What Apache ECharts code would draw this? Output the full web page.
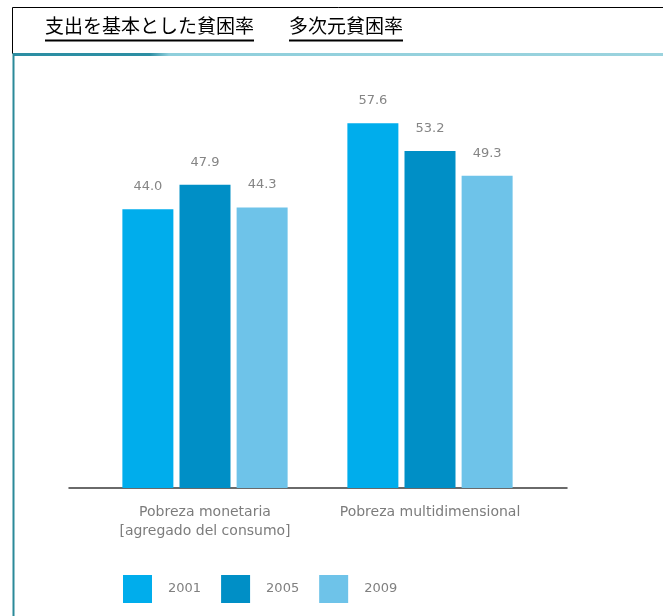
<!DOCTYPE html>
<html>
<head>
<meta charset="utf-8">
<script src="https://cdn.jsdelivr.net/npm/echarts@6/dist/echarts.min.js"></script>
<style>
  html, body { margin: 0; padding: 0; background: #ffffff; }
  #chart { width: 663px; height: 616px; }
</style>
</head>
<body>
<div id="chart"></div>
<script>
// Poverty rates by measure and survey year
const categories = ['Pobreza monetaria\n[agregado del consumo]', 'Pobreza multidimensional'];
const years = ['2001', '2005', '2009'];
const values2001 = [44.0, 57.6];
const values2005 = [47.9, 53.2];
const values2009 = [44.3, 49.3];
const headerTitles = ['支出を基本とした貧困率', '多次元貧困率'];

const seriesValues = [values2001, values2005, values2009];
const colors = ['#00adec', '#008fc6', '#6ec3e9'];

const chart = echarts.init(document.getElementById('chart'), null, { renderer: 'canvas' });

// measure header text so the underlines fit it
const headerFont = '19px "Noto Sans CJK JP"';
const ctx = document.createElement('canvas').getContext('2d');
ctx.font = headerFont;
const headerX = [45, 289];
const headerGraphics = [];
headerTitles.forEach((t, i) => {
  const w = ctx.measureText(t).width;
  headerGraphics.push({
    type: 'text', left: headerX[i], top: 16,
    style: { text: t, fill: '#000', font: headerFont }
  });
  headerGraphics.push({
    type: 'line', shape: { x1: headerX[i], y1: 40.5, x2: headerX[i] + w, y2: 40.5 },
    style: { stroke: '#000', lineWidth: 2 }
  });
});

const option = {
  backgroundColor: '#ffffff',
  animation: false,
  textStyle: { fontFamily: 'DejaVu Sans' },
  color: colors,
  grid: [
    { left: 92.5, right: 120.5, top: 108, bottom: 128 },
    { left: 69, right: 96, top: 108, bottom: 128 }
  ],
  xAxis: [
    {
      type: 'category', gridIndex: 0, data: categories,
      axisLine: { show: false }, axisTick: { show: false },
      axisLabel: { interval: 0, hideOverlap: false, color: '#7c7c7c', fontSize: 14, lineHeight: 19, margin: 15, fontFamily: 'DejaVu Sans' }
    },
    {
      type: 'value', gridIndex: 1, min: 0, max: 1,
      axisLine: { show: true, lineStyle: { color: '#3a3a3a', width: 1.5 } },
      axisTick: { show: false }, axisLabel: { show: false }, splitLine: { show: false }
    }
  ],
  yAxis: [
    { type: 'value', gridIndex: 0, min: 0, max: 60, show: false, splitLine: { show: false } },
    { type: 'value', gridIndex: 1, min: 0, max: 1, show: false, splitLine: { show: false } }
  ],
  legend: {
    data: years,
    left: 123, top: 575, padding: 0,
    itemWidth: 29, itemHeight: 28, itemGap: 20,
    icon: 'rect',
    textStyle: { color: '#808080', fontSize: 13, fontFamily: 'DejaVu Sans', padding: [0, 0, 0, 11] }
  },
  series: years.map((y, i) => ({
    name: y,
    type: 'bar',
    xAxisIndex: 0, yAxisIndex: 0,
    data: seriesValues[i],
    barWidth: 51,
    barGap: '12%',
    itemStyle: { color: colors[i] },
    label: {
      show: true, position: 'top', distance: 16,
      color: '#858585', fontSize: 13, fontFamily: 'DejaVu Sans',
      formatter: p => p.value.toFixed(1)
    }
  })),
  graphic: [
    // header box
    { type: 'rect', shape: { x: 12.5, y: 7.5, width: 660, height: 46 },
      style: { fill: '#fff', stroke: '#000', lineWidth: 1 }, z: 1 },
    ...headerGraphics.map(g => Object.assign(g, { z: 2 })),
    // panel frame
    { type: 'rect', shape: { x: 13, y: 53, width: 650, height: 3 },
      style: { fill: new echarts.graphic.LinearGradient(0, 0, 1, 0, [
        { offset: 0, color: '#2c8ea3' }, { offset: 0.21, color: '#2c8ea3' },
        { offset: 0.24, color: '#8fcfdc' }, { offset: 1, color: '#9bd3de' }
      ]) }, z: 3 },
    { type: 'rect', shape: { x: 12.5, y: 53, width: 2, height: 563 },
      style: { fill: '#2b8a99' }, z: 3 }
  ]
};

chart.setOption(option);
</script>
</body>
</html>
